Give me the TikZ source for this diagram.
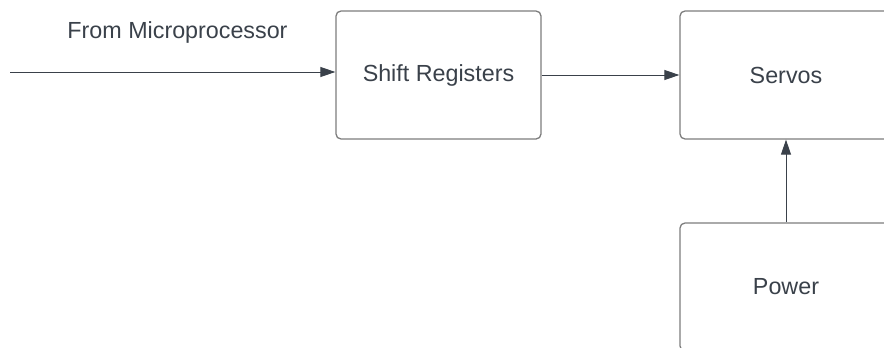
\documentclass[tikz,border=0pt]{standalone}
\usepackage{fontspec}
\setmainfont{Liberation Sans}
\usetikzlibrary{arrows.meta}
\definecolor{txt}{HTML}{3A414A}
\definecolor{edge}{HTML}{7D7D7D}
\tikzset{
  box/.style={draw=edge, line width=1.3pt, rounded corners=5pt, fill=white,
    text=txt, font=\fontsize{23.3}{28}\selectfont, inner sep=0pt},
  lbl/.style={text=txt, font=\fontsize{23.3}{28}\selectfont, inner sep=0pt},
  arr/.style={draw=txt, line width=1pt, -{Triangle[length=15pt,width=10pt]}}
}
\begin{document}
\begin{tikzpicture}[x=1pt,y=-1pt]
\useasboundingbox (0,0) rectangle (884,348);
\clip (0,0) rectangle (884,348);
\node[box, minimum width=205pt, minimum height=128pt] (sr) at (438.5,75) {Shift Registers};
\node[box, minimum width=212pt, minimum height=128pt] (sv) at (786,75) {Servos};
\node[box, minimum width=212pt, minimum height=128pt] (pw) at (786,287) {Power};
\node[lbl, anchor=base] (from) at (177.5,38) {From Microprocessor};
\coordinate (start) at (10,72);
\draw[arr] (start) -- (start -| sr.west);
\draw[arr] (sr.east) -- (sv.west);
\draw[arr] (pw.north) -- (sv.south);
\end{tikzpicture}
\end{document}
